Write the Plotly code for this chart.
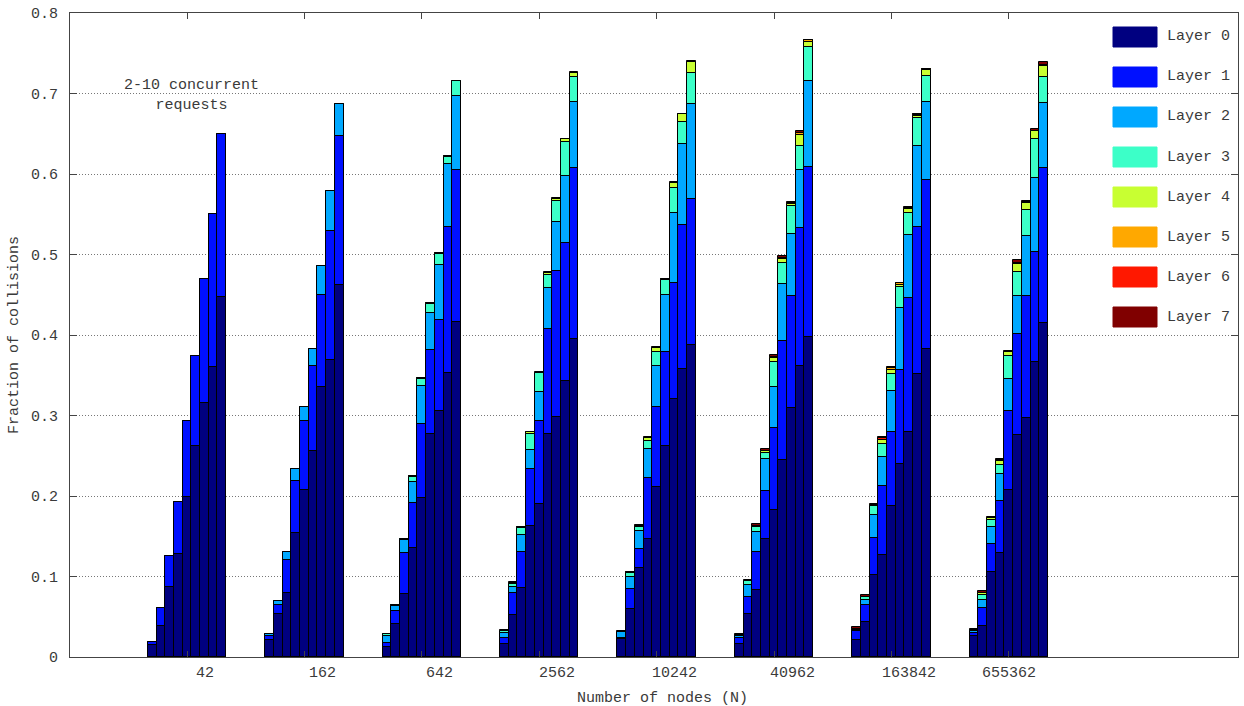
import plotly.graph_objects as go

# ---------------- data ----------------
nodes = ["42", "162", "642", "2562", "10242", "40962", "163842", "655362"]
requests = [2, 3, 4, 5, 6, 7, 8, 9, 10]
layer_names = ["Layer 0", "Layer 1", "Layer 2", "Layer 3", "Layer 4", "Layer 5", "Layer 6", "Layer 7"]
layer_colors = ["#000080", "#0010FF", "#00A8FF", "#3CFFC8", "#C8FF32", "#FFA800", "#FF1800", "#800000"]

# cumulative fraction of collisions up to (and including) each layer;
# one row per node count, one column per number of concurrent requests (2..10)
cum_layer0 = [
    [0.015, 0.038, 0.087, 0.128, 0.199, 0.262, 0.316, 0.360, 0.447],
    [0.021, 0.053, 0.079, 0.154, 0.208, 0.256, 0.335, 0.369, 0.462],
    [0.012, 0.041, 0.078, 0.136, 0.197, 0.277, 0.306, 0.353, 0.416],
    [0.016, 0.052, 0.086, 0.163, 0.190, 0.277, 0.298, 0.343, 0.395],
    [0.022, 0.060, 0.110, 0.146, 0.211, 0.262, 0.321, 0.358, 0.388],
    [0.016, 0.053, 0.083, 0.147, 0.182, 0.245, 0.309, 0.362, 0.398],
    [0.021, 0.043, 0.102, 0.127, 0.187, 0.240, 0.280, 0.351, 0.382],
    [0.026, 0.039, 0.105, 0.129, 0.208, 0.276, 0.297, 0.366, 0.415],
]
cum_layer1 = [
    [0.019, 0.061, 0.125, 0.193, 0.293, 0.374, 0.470, 0.550, 0.650],
    [0.026, 0.065, 0.120, 0.219, 0.293, 0.362, 0.450, 0.529, 0.647],
    [0.018, 0.057, 0.129, 0.191, 0.289, 0.381, 0.419, 0.534, 0.605],
    [0.024, 0.080, 0.130, 0.233, 0.293, 0.407, 0.479, 0.514, 0.608],
    [0.024, 0.085, 0.134, 0.222, 0.311, 0.379, 0.465, 0.537, 0.569],
    [0.023, 0.075, 0.130, 0.206, 0.284, 0.392, 0.448, 0.533, 0.609],
    [0.032, 0.065, 0.148, 0.212, 0.280, 0.357, 0.446, 0.534, 0.593],
    [0.030, 0.061, 0.140, 0.194, 0.305, 0.401, 0.449, 0.503, 0.607],
]
cum_layer2 = [
    [0.019, 0.061, 0.125, 0.193, 0.293, 0.374, 0.470, 0.550, 0.650],
    [0.028, 0.070, 0.131, 0.233, 0.310, 0.383, 0.486, 0.579, 0.687],
    [0.026, 0.063, 0.145, 0.218, 0.337, 0.427, 0.487, 0.612, 0.697],
    [0.030, 0.087, 0.152, 0.257, 0.329, 0.459, 0.540, 0.598, 0.690],
    [0.031, 0.099, 0.157, 0.258, 0.362, 0.450, 0.552, 0.637, 0.687],
    [0.026, 0.090, 0.155, 0.246, 0.336, 0.463, 0.525, 0.605, 0.716],
    [0.034, 0.071, 0.177, 0.248, 0.331, 0.433, 0.524, 0.635, 0.690],
    [0.032, 0.071, 0.162, 0.227, 0.345, 0.449, 0.523, 0.595, 0.688],
]
cum_layer3 = [
    [0.019, 0.061, 0.125, 0.193, 0.293, 0.374, 0.470, 0.550, 0.650],
    [0.028, 0.070, 0.131, 0.233, 0.310, 0.383, 0.486, 0.579, 0.687],
    [0.028, 0.065, 0.147, 0.223, 0.345, 0.439, 0.501, 0.621, 0.715],
    [0.032, 0.091, 0.160, 0.277, 0.353, 0.475, 0.567, 0.640, 0.721],
    [0.031, 0.104, 0.161, 0.268, 0.379, 0.468, 0.582, 0.665, 0.725],
    [0.027, 0.094, 0.161, 0.254, 0.366, 0.490, 0.560, 0.635, 0.758],
    [0.035, 0.074, 0.187, 0.265, 0.352, 0.460, 0.551, 0.670, 0.722],
    [0.033, 0.077, 0.170, 0.239, 0.374, 0.478, 0.555, 0.643, 0.721],
]
cum_layer4 = [
    [0.019, 0.061, 0.125, 0.193, 0.293, 0.374, 0.470, 0.550, 0.650],
    [0.028, 0.070, 0.131, 0.233, 0.310, 0.383, 0.486, 0.579, 0.687],
    [0.029, 0.065, 0.147, 0.225, 0.346, 0.440, 0.502, 0.622, 0.716],
    [0.032, 0.092, 0.161, 0.279, 0.353, 0.477, 0.569, 0.643, 0.726],
    [0.031, 0.105, 0.163, 0.272, 0.384, 0.469, 0.589, 0.674, 0.739],
    [0.027, 0.095, 0.163, 0.256, 0.372, 0.495, 0.563, 0.648, 0.764],
    [0.035, 0.075, 0.189, 0.269, 0.357, 0.462, 0.557, 0.672, 0.729],
    [0.034, 0.080, 0.173, 0.244, 0.379, 0.488, 0.564, 0.653, 0.734],
]
cum_layer5 = [
    [0.019, 0.061, 0.125, 0.193, 0.293, 0.374, 0.470, 0.550, 0.650],
    [0.028, 0.070, 0.131, 0.233, 0.310, 0.383, 0.486, 0.579, 0.687],
    [0.029, 0.065, 0.147, 0.225, 0.346, 0.440, 0.502, 0.622, 0.716],
    [0.032, 0.092, 0.161, 0.279, 0.353, 0.477, 0.569, 0.643, 0.726],
    [0.031, 0.105, 0.163, 0.272, 0.384, 0.469, 0.589, 0.674, 0.739],
    [0.027, 0.095, 0.163, 0.256, 0.373, 0.496, 0.564, 0.651, 0.766],
    [0.035, 0.075, 0.189, 0.270, 0.359, 0.464, 0.558, 0.673, 0.730],
    [0.034, 0.080, 0.173, 0.245, 0.379, 0.490, 0.565, 0.654, 0.736],
]
cum_layer6 = [
    [0.019, 0.061, 0.125, 0.193, 0.293, 0.374, 0.470, 0.550, 0.650],
    [0.028, 0.070, 0.131, 0.233, 0.310, 0.383, 0.486, 0.579, 0.687],
    [0.029, 0.065, 0.147, 0.225, 0.346, 0.440, 0.502, 0.622, 0.716],
    [0.032, 0.092, 0.161, 0.279, 0.353, 0.477, 0.569, 0.643, 0.726],
    [0.031, 0.105, 0.163, 0.272, 0.384, 0.469, 0.589, 0.674, 0.739],
    [0.027, 0.095, 0.163, 0.256, 0.373, 0.496, 0.564, 0.651, 0.766],
    [0.035, 0.075, 0.189, 0.272, 0.359, 0.464, 0.558, 0.674, 0.730],
    [0.034, 0.080, 0.173, 0.245, 0.379, 0.490, 0.565, 0.654, 0.736],
]
cum_layer7 = [
    [0.019, 0.061, 0.125, 0.193, 0.293, 0.374, 0.470, 0.550, 0.650],
    [0.028, 0.070, 0.131, 0.233, 0.310, 0.383, 0.486, 0.579, 0.687],
    [0.029, 0.065, 0.147, 0.225, 0.346, 0.440, 0.502, 0.622, 0.716],
    [0.033, 0.093, 0.162, 0.280, 0.354, 0.478, 0.570, 0.644, 0.727],
    [0.032, 0.106, 0.164, 0.273, 0.385, 0.470, 0.590, 0.675, 0.741],
    [0.028, 0.096, 0.165, 0.258, 0.375, 0.498, 0.565, 0.653, 0.767],
    [0.037, 0.077, 0.190, 0.273, 0.360, 0.465, 0.559, 0.675, 0.731],
    [0.035, 0.082, 0.174, 0.246, 0.380, 0.493, 0.567, 0.656, 0.739],
]
cum_layers = [cum_layer0, cum_layer1, cum_layer2, cum_layer3,
              cum_layer4, cum_layer5, cum_layer6, cum_layer7]

# ---------------- layout helpers ----------------
W, H = 1244, 706
ML, MR, MT, MB = 70, 6, 13, 49
PW, PH = W - ML - MR, H - MT - MB
bar_w = 0.0741                       # width of one bar in group units
x_lo, x_hi = -0.997, 8.952
label_pos = [0.153, 1.153, 2.153, 3.153, 4.153, 5.153, 6.153, 7.0]

FONT = "Liberation Mono, Courier New, monospace"
FS = 15
TXT = "#3a3a3a"
AX = "#444444"

def px_to_paper_x(px):
    return (px - ML) / PW

def px_to_paper_y(py):
    return (H - MB - py) / PH

xs = [g + (r - 6) * bar_w for g in range(len(nodes)) for r in requests]

fig = go.Figure()
# overlay cumulative bars: highest layer first so the lower layers paint on top
for k in range(7, -1, -1):
    yvals = [v for row in cum_layers[k] for v in row]
    fig.add_trace(go.Bar(
        x=xs, y=yvals, width=bar_w, name=layer_names[k],
        marker=dict(color=layer_colors[k], line=dict(color="#000000", width=1)),
        showlegend=False,
    ))

shapes = []
annotations = []
# white panel behind the legend (hides the grid lines there)
shapes.append(dict(type="rect", xref="paper", yref="paper",
                   x0=px_to_paper_x(1103), x1=1.0, y0=px_to_paper_y(330), y1=1.0,
                   fillcolor="white", line=dict(width=0), layer="below"))
for k, name in enumerate(layer_names):
    cy = 37 + 40 * k
    shapes.append(dict(type="rect", xref="paper", yref="paper",
                       x0=px_to_paper_x(1113), x1=px_to_paper_x(1157),
                       y0=px_to_paper_y(cy + 10), y1=px_to_paper_y(cy - 10),
                       fillcolor=layer_colors[k], line=dict(color=layer_colors[k], width=1)))
    annotations.append(dict(xref="paper", yref="paper", x=px_to_paper_x(1165),
                            y=px_to_paper_y(cy), text=name, showarrow=False,
                            xanchor="left", yanchor="middle",
                            font=dict(family=FONT, size=FS, color=TXT)))

annotations.append(dict(x=0.04, y=0.697, xref="x", yref="y",
                        text="2-10 concurrent<br>requests", showarrow=False,
                        xanchor="center", yanchor="middle",
                        font=dict(family=FONT, size=FS, color=TXT)))

# x tick labels
for pos, lab in zip(label_pos, nodes):
    annotations.append(dict(x=pos, y=0, xref="x", yref="paper", text=lab,
                            showarrow=False, xanchor="center", yanchor="middle",
                            yshift=-16, font=dict(family=FONT, size=FS, color=TXT)))
# x axis title
annotations.append(dict(x=px_to_paper_x(662), y=0, xref="paper", yref="paper",
                        text="Number of nodes (N)", showarrow=False,
                        xanchor="center", yanchor="middle", yshift=-41,
                        font=dict(family=FONT, size=FS, color=TXT)))

fig.update_layout(
    width=W, height=H, barmode="overlay", bargap=0,
    margin=dict(l=ML, r=MR, t=MT, b=MB),
    paper_bgcolor="white", plot_bgcolor="white",
    font=dict(family=FONT, size=FS, color=TXT),
    shapes=shapes, annotations=annotations,
    xaxis=dict(range=[x_lo, x_hi],
               tickvals=list(range(len(nodes))), ticktext=[""] * len(nodes),
               ticks="inside", ticklen=6, tickcolor=AX, showgrid=False,
               showline=True, linecolor=AX, linewidth=1, mirror="ticks",
               zeroline=False),
    yaxis=dict(range=[0, 0.8], tickvals=[0, 0.1, 0.2, 0.3, 0.4, 0.5, 0.6, 0.7, 0.8],
               ticktext=["0", "0.1", "0.2", "0.3", "0.4", "0.5", "0.6", "0.7", "0.8"],
               ticks="inside", ticklen=7, tickcolor=AX, ticklabelstandoff=8,
               showgrid=True, gridcolor="#777777", griddash="1px,2px", gridwidth=1,
               showline=True, linecolor=AX, linewidth=1, mirror="ticks",
               title=dict(text="Fraction of collisions", standoff=8,
                          font=dict(family=FONT, size=FS, color=TXT)),
               tickfont=dict(family=FONT, size=FS, color=TXT), zeroline=False),
)

fig.write_html("out.html", config={"displayModeBar": False},
               post_script="document.body.style.margin='0';document.body.style.overflow='hidden';")
